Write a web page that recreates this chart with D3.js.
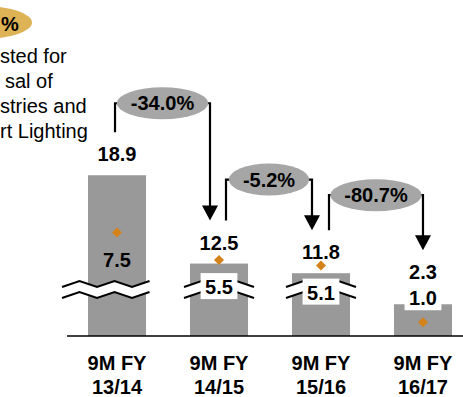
<!DOCTYPE html>
<html>
<head>
<meta charset="utf-8">
<script src="https://cdn.jsdelivr.net/npm/d3@7"></script>
<style>
  html, body { margin: 0; padding: 0; background: #fff; }
  svg { display: block; }
  text { font-family: Arial, "Liberation Sans", sans-serif; }
</style>
</head>
<body>
<div id="chart"></div>
<script>
// ---------- data ----------
const categories = ["9M FY 13/14", "9M FY 14/15", "9M FY 15/16", "9M FY 16/17"];
const totals = [18.9, 12.5, 11.8, 2.3];          // reported values (bars)
const adjusted = [7.5, 5.5, 5.1, 1.0];           // adjusted values (diamonds)
const changes = [-34.0, -5.2, -80.7];            // change between consecutive periods
const noteBadge = "%";
const noteLines = ["sted for", "sal of", "stries and", "rt Lighting"];

// ---------- layout / style ----------
const W = 463, H = 397;
const baseY = 336;
const breakThreshold = 10, breakGap = 7.25;     // axis break for tall bars
const breakLayout = [{start: -55, segs: 5}, {start: -35, segs: 4}, {start: -35, segs: 4}, null];
const arrowLayout = [{dl: -2, dr: -9, lift: 58}, {dl: 7, dr: -9, lift: 70}, {dl: 8, dr: 0, lift: 64}];
const noteLeft = [0, 5, 0, 0];
const barColor = "#999999", bubbleColor = "#a6a6a6", diamondColor = "#d4821a", badgeColor = "#ddb356";
const font = 20;

const svg = d3.select("#chart").append("svg").attr("width", W).attr("height", H);

const x = d3.scaleBand().domain(categories).range([88, 452]).paddingInner(0.431).paddingOuter(0);
const y = d3.scaleLinear().domain([0, 20]).range([baseY, 60]);
const isBroken = v => v > breakThreshold;
const barY = v => isBroken(v) ? y(v - breakGap) : y(v);
const cx = i => x(categories[i]) + x.bandwidth() / 2;
const fmt = d3.format(".1f");
const pctFmt = d3.formatLocale({decimal: ".", thousands: ",", grouping: [3], currency: ["", ""], minus: "-"}).format(".1f");

// ---------- top-left note ----------
svg.append("ellipse").attr("cx", -18).attr("cy", 22.5).attr("rx", 50).attr("ry", 16.5).attr("fill", badgeColor);
svg.append("text").attr("x", 1).attr("y", 31).attr("text-anchor", "start")
  .attr("font-size", font).attr("font-weight", "bold").text(noteBadge);
svg.selectAll("text.note").data(noteLines).join("text").attr("class", "note")
  .attr("x", (d, i) => noteLeft[i]).attr("y", (d, i) => 62.5 + 25 * i)
  .attr("text-anchor", "start").attr("font-size", font).text(d => d);

// ---------- bars ----------
svg.selectAll("rect.bar").data(totals).join("rect").attr("class", "bar")
  .attr("x", (d, i) => x(categories[i])).attr("width", x.bandwidth())
  .attr("y", d => barY(d)).attr("height", d => baseY - barY(d)).attr("fill", barColor);

// axis line
svg.append("line").attr("x1", 67).attr("x2", W).attr("y1", y(0)).attr("y2", y(0))
  .attr("stroke", "#000").attr("stroke-width", 1.6);

// ---------- axis breaks ----------
totals.forEach((v, i) => {
  if (!isBroken(v) || !breakLayout[i]) return;
  const b = breakLayout[i];
  const up = [], lo = [];
  for (let k = 0; k <= b.segs; k++) {
    const px = cx(i) + b.start + k * 17.5;
    const py = k % 2 === 0 ? 287 : 281;
    up.push([px, py]); lo.push([px, py + 11]);
  }
  svg.append("path").attr("d", d3.line()(up.concat(lo.slice().reverse())) + "Z").attr("fill", "#fff");
  [up, lo].forEach(pts => svg.append("path").attr("d", d3.line()(pts))
    .attr("fill", "none").attr("stroke", "#000").attr("stroke-width", 2));
});

// ---------- diamonds ----------
svg.selectAll("path.dia").data(adjusted).join("path").attr("class", "dia")
  .attr("d", d3.symbol(d3.symbolSquare, 50)())
  .attr("transform", (d, i) => `translate(${cx(i)},${y(d)}) rotate(45)`)
  .attr("fill", diamondColor);

// ---------- value labels ----------
const innerBase = adjusted.map((a, i) => isBroken(totals[i]) ? y(a) + 34 : barY(totals[i]) + 1);
const totalBase = totals.map((t, i) => isBroken(t) ? barY(t) - 14 : innerBase[i] - 26);

adjusted.forEach((a, i) => {
  const b = innerBase[i];
  const boxed = !isBroken(totals[i]) || (b > 279 && b - 15 < 300);
  const g = svg.append("g");
  const t = g.append("text").attr("x", cx(i)).attr("y", b).attr("text-anchor", "middle")
    .attr("font-size", font).attr("font-weight", "bold").text(fmt(a));
  if (boxed) {
    const w = t.node().getComputedTextLength() + 9;
    g.insert("rect", "text").attr("x", cx(i) - w / 2).attr("width", w)
      .attr("y", b - 21).attr("height", 26).attr("fill", "#fff");
  }
});
svg.selectAll("text.total").data(totals).join("text").attr("class", "total")
  .attr("x", (d, i) => cx(i)).attr("y", (d, i) => totalBase[i]).attr("text-anchor", "middle")
  .attr("font-size", font).attr("font-weight", "bold").text(d => fmt(d));

// ---------- category labels ----------
categories.forEach((c, i) => {
  const k = c.lastIndexOf(" ");
  const t = svg.append("text").attr("x", cx(i)).attr("text-anchor", "middle")
    .attr("font-size", font).attr("font-weight", "bold");
  t.append("tspan").attr("x", cx(i)).attr("y", 370).text(c.slice(0, k));
  t.append("tspan").attr("x", cx(i)).attr("y", 394).text(c.slice(k + 1));
});

// ---------- change bubbles & arrows ----------
changes.forEach((ch, i) => {
  const L = arrowLayout[i];
  const xl = cx(i) + L.dl, xr = cx(i + 1) + L.dr;
  const cyy = totalBase[i] - L.lift;
  const mid = (xl + xr) / 2;
  const g = svg.append("g");
  const label = pctFmt(ch) + "%";
  const tmp = g.append("text").attr("font-size", font).attr("font-weight", "bold").text(label);
  const tw = tmp.node().getComputedTextLength();
  tmp.remove();
  const rx = tw / 2 + 14, ry = 16;
  const tip = totalBase[i + 1] - 29, headH = 15, headW = 16;
  g.append("path").attr("d", `M${xl},${totalBase[i] - 29}V${cyy}H${mid - rx + 2}`)
    .attr("fill", "none").attr("stroke", "#000").attr("stroke-width", 2.2);
  g.append("path").attr("d", `M${mid + rx - 2},${cyy}H${xr}V${tip - headH + 1}`)
    .attr("fill", "none").attr("stroke", "#000").attr("stroke-width", 2.2);
  g.append("path").attr("d", `M${xr - headW / 2},${tip - headH}L${xr + headW / 2},${tip - headH}L${xr},${tip}Z`)
    .attr("fill", "#000");
  g.append("ellipse").attr("cx", mid).attr("cy", cyy).attr("rx", rx).attr("ry", ry).attr("fill", bubbleColor);
  g.append("text").attr("x", mid).attr("y", cyy + 7).attr("text-anchor", "middle")
    .attr("font-size", font).attr("font-weight", "bold").text(label);
});
</script>
</body>
</html>
